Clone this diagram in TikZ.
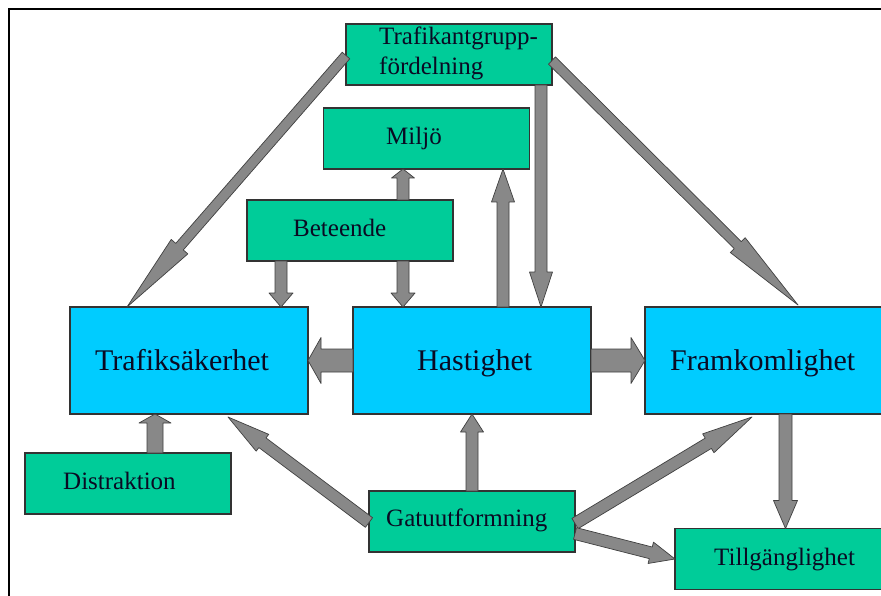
\documentclass[tikz,border=0pt]{standalone}
\usepackage{fontspec}
\setmainfont{Liberation Serif}
\usetikzlibrary{calc}
\definecolor{boxgreen}{RGB}{0,204,153}
\definecolor{boxcyan}{RGB}{0,204,255}
\definecolor{arrgray}{RGB}{136,136,136}
\definecolor{txt}{RGB}{10,10,35}
\tikzset{
 gbox/.style={draw=black!80, line width=1.1pt, fill=boxgreen, minimum width=206pt, minimum height=61pt, inner sep=0pt, outer sep=0pt},
 cbox/.style={draw=black!80, line width=1.1pt, fill=boxcyan, minimum width=238pt, minimum height=107pt, inner sep=0pt, outer sep=0pt},
 small/.style={anchor=base west, inner sep=0pt, text=txt, font=\fontsize{25}{30}\selectfont},
 big/.style={anchor=base west, inner sep=0pt, text=txt, font=\fontsize{30}{36}\selectfont},
 arr/.style={fill=arrgray, draw=black!75, line width=0.7pt, line join=round},
}
\newcommand{\blockarrow}[5]{%
 \coordinate (bah) at ($(#2)!#5!(#1)$);
 \draw[arr] ($(#1)!#3!90:(#2)$) -- ($(bah)!#3!90:(#2)$) -- ($(bah)!#4!90:(#2)$) -- (#2) -- ($(bah)!#4!-90:(#2)$) -- ($(bah)!#3!-90:(#2)$) -- ($(#1)!#3!-90:(#2)$) -- cycle;}
\begin{document}
\begin{tikzpicture}[x=1pt,y=-1pt]
\useasboundingbox (0,0) rectangle (881,596);
\fill[white] (0,0) rectangle (881,596);
\draw[line width=2.5pt] (9,600) -- (9,9) -- (890,9);
% boxes
\node[gbox] (tg) at (449,54.5) {};
\node[gbox] (mil) at (426.5,138.5) {};
\node[gbox] (bet) at (350,230.5) {};
\node[cbox] (ts) at (189,360.5) {};
\node[cbox] (ha) at (472,360.5) {};
\node[cbox] (fr) at (764,360.5) {};
\node[gbox] (dis) at (128,483.5) {};
\node[gbox] (gat) at (472,521.5) {};
\node[gbox, minimum width=212pt] (til) at (781,559) {};
% connector end points
\coordinate (a1s) at ($(tg.west)+(0,1)$);
\coordinate (a1e) at ($(ts.north west)+(57,0)$);
\coordinate (a2s) at ($(tg.east)+(0,6)$);
\coordinate (a2e) at ($(fr.north west)+(153,-2)$);
\coordinate (a3s) at ($(tg.south)+(92,0)$);
\coordinate (a3e) at ($(ha.north)+(69,0)$);
\coordinate (a4s) at ($(ha.north)+(31,0)$);
\coordinate (a4e) at ($(mil.south)+(76.5,0)$);
\coordinate (a5s) at ($(bet.north)+(53,0)$);
\coordinate (a5e) at ($(mil.south)+(-23.5,0)$);
\coordinate (a6s) at ($(bet.south)+(53,0)$);
\coordinate (a6e) at ($(ha.north)+(-69,0)$);
\coordinate (a7s) at ($(bet.south)+(-69,0)$);
\coordinate (a7e) at ($(ts.north)+(92,0)$);
\coordinate (a10s) at ($(dis.north)+(27,0)$);
\coordinate (a10e) at ($(ts.south)+(-34,0)$);
\coordinate (a11s) at ($(gat.west)+(0,1)$);
\coordinate (a11e) at ($(ts.south)+(39,3)$);
\coordinate (a13s) at ($(gat.east)+(0,2)$);
\coordinate (a13e) at ($(fr.south)+(-12,3)$);
\coordinate (a14s) at ($(gat.east)+(0,12)$);
\coordinate (a15s) at ($(fr.south)+(21.5,0)$);
\coordinate (a15e) at ($(til.north)+(4.5,0)$);
% arrows
\blockarrow{a1s}{a1e}{5pt}{11pt}{80pt}
\blockarrow{a2s}{a2e}{5pt}{10.5pt}{85pt}
\blockarrow{a3s}{a3e}{6pt}{11.5pt}{35pt}
\blockarrow{a4s}{a4e}{6pt}{11.5pt}{33pt}
\blockarrow{a5s}{a5e}{6pt}{11.5pt}{9pt}
\blockarrow{a6s}{a6e}{6pt}{12pt}{14pt}
\blockarrow{a7s}{a7e}{6pt}{12pt}{14pt}
\blockarrow{ha.west}{ts.east}{11.5pt}{23pt}{13pt}
\blockarrow{ha.east}{fr.west}{11.5pt}{23pt}{14pt}
\blockarrow{a10s}{a10e}{8pt}{16pt}{9pt}
\blockarrow{a11s}{a11e}{6pt}{10.5pt}{43pt}
\blockarrow{gat.north}{ha.south}{6pt}{11.5pt}{18pt}
\blockarrow{a13s}{a13e}{6pt}{11pt}{51pt}
\blockarrow{a14s}{til.west}{6pt}{11pt}{25pt}
\blockarrow{a15s}{a15e}{6.5pt}{12pt}{28pt}
% texts
\node[small] (t-tg1) at (379,45) {Trafikantgrupp-};
\node[small] (t-tg2) at (379,75) {fördelning};
\node[small] (t-mil) at (386,145) {Miljö};
\node[small] (t-bet) at (293,236.5) {Beteende};
\node[big] (t-ts) at (95,370) {Trafiksäkerhet};
\node[big] (t-ha) at (417,370) {Hastighet};
\node[big] (t-fr) at (670,370) {Framkomlighet};
\node[small] (t-dis) at (63,489) {Distraktion};
\node[small] (t-gat) at (386,526.5) {Gatuutformning};
\node[small] (t-til) at (714,565) {Tillgänglighet};
\end{tikzpicture}
\end{document}
